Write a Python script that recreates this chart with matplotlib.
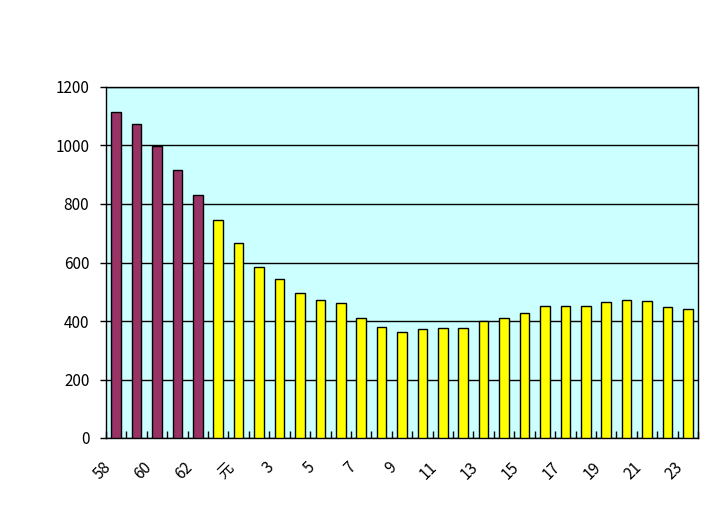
import matplotlib
matplotlib.use("Agg")
import matplotlib.pyplot as plt
import matplotlib.transforms as mtransforms
import numpy as np

plt.rcParams['font.family'] = ['Noto Sans CJK JP', 'DejaVu Sans']

labels = ["58", "59", "60", "61", "62", "63", "元", "2", "3", "4", "5", "6", "7", "8",
          "9", "10", "11", "12", "13", "14", "15", "16", "17", "18", "19", "20", "21", "22", "23"]
values = [1113, 1072, 999, 915, 830, 744, 666, 584, 543, 495, 471, 460, 409, 378,
          361, 372, 375, 375, 399, 409, 429, 450, 450, 450, 464, 471, 467, 447, 440]
showa_count = 5
purple = "#993366"
yellow = "#FFFF00"

fig = plt.figure(figsize=(7.12, 5.22), dpi=100)
ax = fig.add_axes([106/712, 1 - 438/522, (698-106)/712, (438-87)/522])
ax.set_facecolor("#CCFFFF")

x = np.arange(len(values))
colors = [purple if i < showa_count else yellow for i in range(len(values))]
ax.bar(x, values, width=0.47, color=colors, edgecolor="black", linewidth=1.0, zorder=3)

ax.set_xlim(-0.5, len(values) - 0.5)
ax.set_ylim(0, 1200)
ax.set_yticks(np.arange(0, 1201, 200))
ax.yaxis.grid(True, color="black", linewidth=1.0, zorder=1)
ax.tick_params(axis='y', direction='out', length=4, width=1, labelsize=11, pad=8)

# category boundary ticks (minor) on x
ax.set_xticks(np.arange(-0.5, len(values), 1), minor=True)
ax.tick_params(axis='x', which='minor', direction='in', length=5, width=1)
ax.set_xticks(x[::2])
ax.set_xticklabels(labels[::2], rotation=45, ha='right', va='top', rotation_mode='anchor')
ax.tick_params(axis='x', which='major', length=0, labelsize=11, pad=15)
offset = mtransforms.ScaledTranslation(-14/100, 0, fig.dpi_scale_trans)
for lab in ax.get_xticklabels():
    lab.set_transform(lab.get_transform() + offset)

for s in ax.spines.values():
    s.set_linewidth(1.0)
    s.set_color("black")

fig.savefig("out.png", dpi=100, facecolor="white")
